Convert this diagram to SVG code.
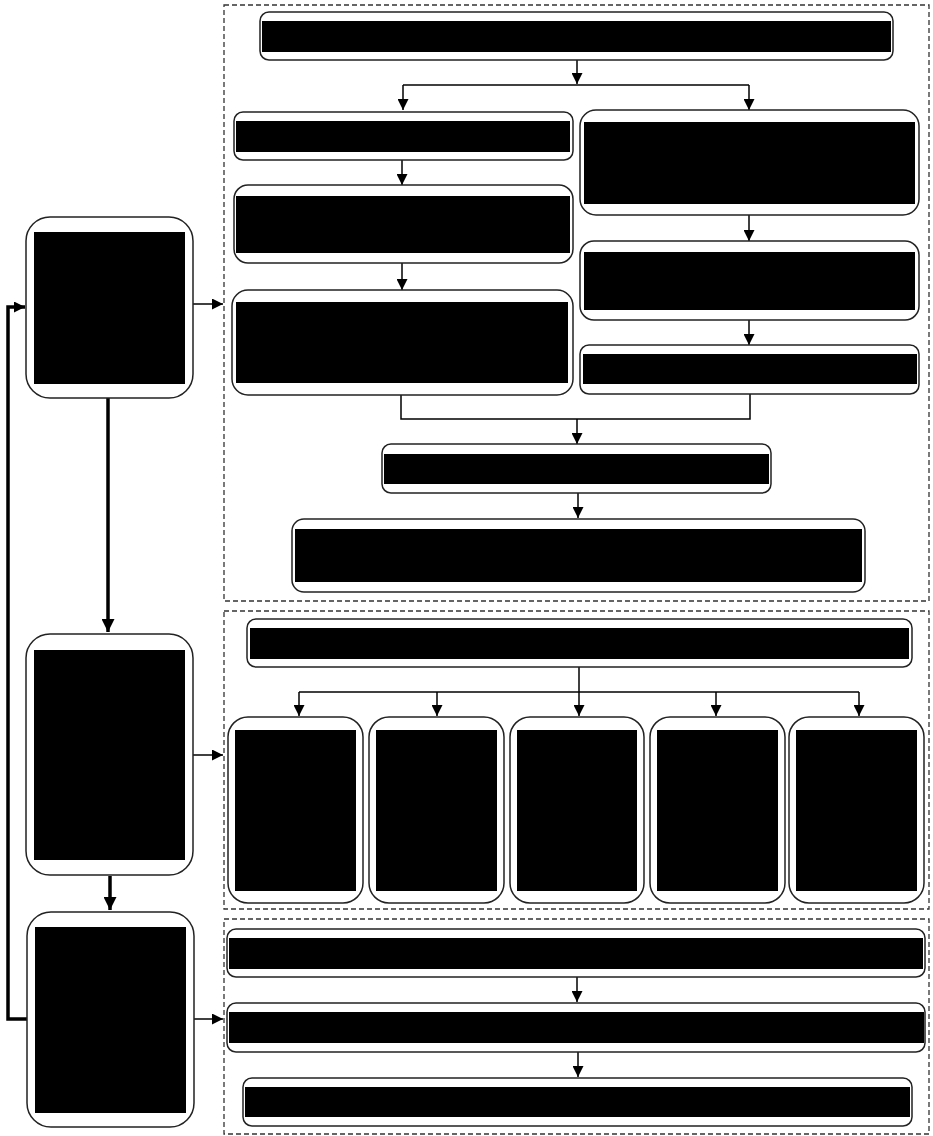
<svg xmlns="http://www.w3.org/2000/svg" width="933" height="1136" viewBox="0 0 933 1136">
<defs>
<marker id="ah" viewBox="0 0 10 10" refX="10" refY="5" markerWidth="11" markerHeight="11" markerUnits="userSpaceOnUse" orient="auto"><path d="M0,0 L10,5 L0,10 z" fill="#000"/></marker>
<marker id="ahb" viewBox="0 0 10 10" refX="10" refY="5" markerWidth="13" markerHeight="13" markerUnits="userSpaceOnUse" orient="auto"><path d="M0,0 L10,5 L0,10 z" fill="#000"/></marker>
</defs>
<style>
.box{fill:#fff;stroke:#222;stroke-width:1.5}
.txt{fill:#000;stroke:none}
.grp{fill:none;stroke:#333;stroke-width:1.3;stroke-dasharray:5 3}
.c{fill:none;stroke:#000;stroke-width:1.5}
.ct{fill:none;stroke:#000;stroke-width:3.5}
</style>
<rect width="933" height="1136" fill="#fff"/>
<g id="containers">
<rect class="grp" x="224" y="5" width="705" height="596"/>
<rect class="grp" x="224" y="611" width="705" height="298"/>
<rect class="grp" x="224" y="919" width="705" height="215"/>
</g>
<g id="connectors">
<path class="ct" d="M108,398 V632" marker-end="url(#ahb)"/>
<path class="ct" d="M110,876 V910" marker-end="url(#ahb)"/>
<path class="ct" d="M27,1019 H8 V307 H25" marker-end="url(#ah)"/>
<path class="c" d="M193,304 H223" marker-end="url(#ah)"/>
<path class="c" d="M193,755 H223" marker-end="url(#ah)"/>
<path class="c" d="M193,1019 H223" marker-end="url(#ah)"/>
<path class="c" d="M577,60 V84" marker-end="url(#ah)"/>
<path class="c" d="M403,85 H749"/>
<path class="c" d="M403,85 V110" marker-end="url(#ah)"/>
<path class="c" d="M749,85 V110" marker-end="url(#ah)"/>
<path class="c" d="M402,160 V185" marker-end="url(#ah)"/>
<path class="c" d="M402,263 V290" marker-end="url(#ah)"/>
<path class="c" d="M749,215 V241" marker-end="url(#ah)"/>
<path class="c" d="M749,320 V345" marker-end="url(#ah)"/>
<path class="c" d="M401,395 V419 H750 V394"/>
<path class="c" d="M577,419 V444" marker-end="url(#ah)"/>
<path class="c" d="M578,493 V518" marker-end="url(#ah)"/>
<path class="c" d="M579,667 V716" marker-end="url(#ah)"/>
<path class="c" d="M299,692 H859"/>
<path class="c" d="M299,692 V716" marker-end="url(#ah)"/>
<path class="c" d="M437,692 V716" marker-end="url(#ah)"/>
<path class="c" d="M716,692 V716" marker-end="url(#ah)"/>
<path class="c" d="M859,692 V716" marker-end="url(#ah)"/>
<path class="c" d="M577,977 V1002" marker-end="url(#ah)"/>
<path class="c" d="M578,1052 V1077" marker-end="url(#ah)"/>
</g>
<g id="L1"><rect class="box" x="26" y="217" width="167" height="181" rx="24"/><rect class="txt" x="34" y="232" width="151" height="152"/></g>
<g id="L2"><rect class="box" x="26" y="634" width="167" height="241" rx="24"/><rect class="txt" x="34" y="650" width="151" height="210"/></g>
<g id="L3"><rect class="box" x="27" y="912" width="167" height="215" rx="24"/><rect class="txt" x="35" y="927" width="151" height="186"/></g>
<g id="T1"><rect class="box" x="260" y="12" width="633" height="48" rx="9"/><rect class="txt" x="262" y="21" width="629" height="31"/></g>
<g id="A1"><rect class="box" x="234" y="112" width="339" height="48" rx="9"/><rect class="txt" x="236" y="121" width="334" height="31"/></g>
<g id="A2"><rect class="box" x="234" y="185" width="339" height="78" rx="14"/><rect class="txt" x="236" y="196" width="334" height="57"/></g>
<g id="A3"><rect class="box" x="232" y="290" width="341" height="105" rx="16"/><rect class="txt" x="236" y="302" width="332" height="81"/></g>
<g id="B1"><rect class="box" x="580" y="110" width="339" height="105" rx="16"/><rect class="txt" x="584" y="122" width="331" height="82"/></g>
<g id="B2"><rect class="box" x="580" y="241" width="339" height="79" rx="14"/><rect class="txt" x="584" y="252" width="331" height="58"/></g>
<g id="B3"><rect class="box" x="580" y="345" width="339" height="49" rx="9"/><rect class="txt" x="583" y="354" width="334" height="30"/></g>
<g id="M1"><rect class="box" x="382" y="444" width="389" height="49" rx="9"/><rect class="txt" x="384" y="454" width="385" height="30"/></g>
<g id="M2"><rect class="box" x="292" y="519" width="573" height="73" rx="12"/><rect class="txt" x="295" y="529" width="567" height="53"/></g>
<g id="S0"><rect class="box" x="247" y="619" width="665" height="48" rx="9"/><rect class="txt" x="250" y="628" width="659" height="31"/></g>
<g id="S1"><rect class="box" x="228" y="717" width="135" height="186" rx="20"/><rect class="txt" x="235" y="730" width="121" height="161"/></g>
<g id="S2"><rect class="box" x="369" y="717" width="135" height="186" rx="20"/><rect class="txt" x="376" y="730" width="121" height="161"/></g>
<g id="S3"><rect class="box" x="510" y="717" width="134" height="186" rx="20"/><rect class="txt" x="517" y="730" width="120" height="161"/></g>
<g id="S4"><rect class="box" x="650" y="717" width="135" height="186" rx="20"/><rect class="txt" x="657" y="730" width="121" height="161"/></g>
<g id="S5"><rect class="box" x="789" y="717" width="135" height="186" rx="20"/><rect class="txt" x="796" y="730" width="121" height="161"/></g>
<g id="C1"><rect class="box" x="227" y="929" width="698" height="48" rx="9"/><rect class="txt" x="229" y="938" width="694" height="31"/></g>
<g id="C2"><rect class="box" x="227" y="1003" width="698" height="49" rx="9"/><rect class="txt" x="229" y="1012" width="695" height="31"/></g>
<g id="C3"><rect class="box" x="243" y="1078" width="669" height="48" rx="9"/><rect class="txt" x="245" y="1087" width="665" height="30"/></g>
</svg>
